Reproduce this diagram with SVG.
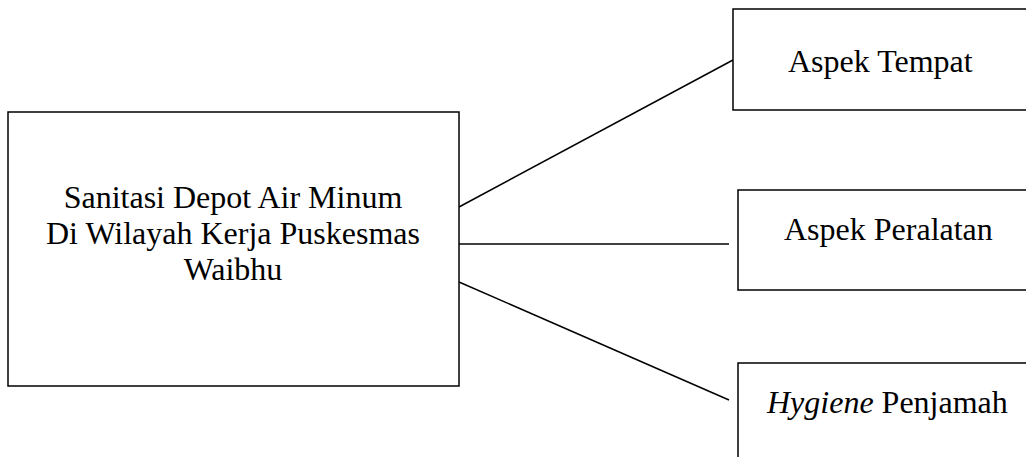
<svg xmlns="http://www.w3.org/2000/svg" width="1026" height="457" viewBox="0 0 1026 457">
<style>
.box{fill:#fff;stroke:#000;stroke-width:1.5}
.t{font-family:"Liberation Serif","Times New Roman",serif;font-size:32px;fill:#000}
.c{stroke:#000;stroke-width:1.5;fill:none}
</style>
<rect width="1026" height="457" fill="#fff"/>
<g id="connectors">
<line class="c" x1="459" y1="207" x2="733" y2="60"/>
<line class="c" x1="459" y1="244" x2="729" y2="244"/>
<line class="c" x1="459" y1="282" x2="729" y2="400"/>
</g>
<g id="main">
<rect class="box" x="8" y="112" width="451" height="274"/>
<text class="t" text-anchor="middle" x="233" y="208">Sanitasi Depot Air Minum</text>
<text class="t" text-anchor="middle" x="233" y="244">Di Wilayah Kerja Puskesmas</text>
<text class="t" text-anchor="middle" x="233" y="280">Waibhu</text>
</g>
<g id="tempat">
<rect class="box" x="733" y="9" width="310" height="101"/>
<text class="t" x="788" y="72">Aspek Tempat</text>
</g>
<g id="peralatan">
<rect class="box" x="738" y="190" width="310" height="100"/>
<text class="t" x="784" y="240">Aspek Peralatan</text>
</g>
<g id="hygiene">
<rect class="box" x="738" y="363" width="310" height="120"/>
<text class="t" x="767" y="413"><tspan font-style="italic">Hygiene</tspan> Penjamah</text>
</g>
</svg>
